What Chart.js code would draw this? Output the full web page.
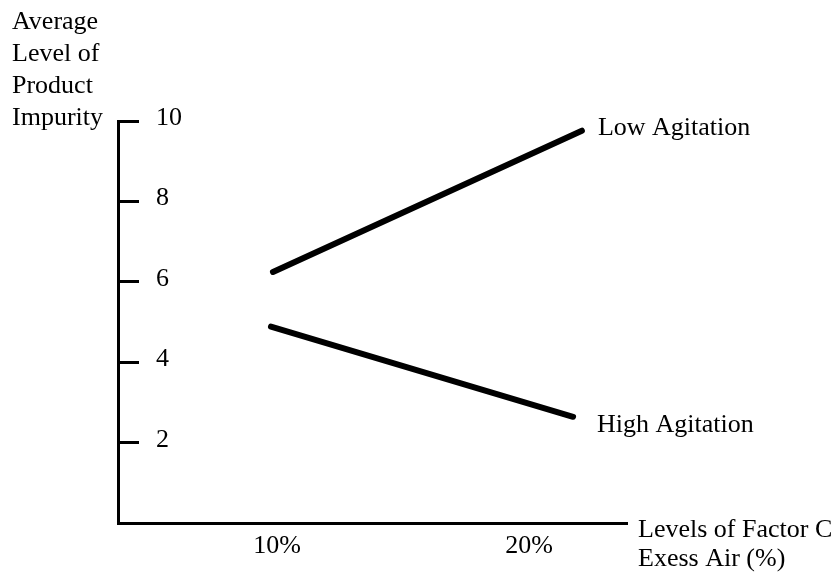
<!DOCTYPE html>
<html lang="en">
<head>
<meta charset="UTF-8">
<title>Average Level of Product Impurity</title>
<script src="https://cdn.jsdelivr.net/npm/chart.js"></script>
<style>
body {
	margin: 0;
	background: #ffffff;
}

.displayChart {
	position: relative;
	width: 840px;
	height: 577px;
}
</style>
</head>
<body>
	<div class="displayChart">
		<canvas id="impurityChart"></canvas>
	</div>
	<script>
	// values
	const xTicks = [10, 20];
	const yTicks = [2, 4, 6, 8, 10];
	const seriesNames = ['Low Agitation', 'High Agitation'];
	const lowX = [9.84, 22.1];
	const lowY = [6.25, 9.76];
	const highX = [9.76, 21.75];
	const highY = [4.89, 2.65];
	const yTitle = ['Average', 'Level of', 'Product', 'Impurity'];
	const xTitle = ['Levels of Factor C', 'Exess Air (%)'];

	const serif = "'Liberation Serif', 'Times New Roman', serif";
	Chart.defaults.font.family = serif;
	Chart.defaults.color = '#000000';

	// where the end labels sit relative to the last point of each line
	const endLabelOffsets = [{ dx: 16, dy: 4 }, { dx: 24, dy: 15 }];

	const textPlugin = {
		id: 'textPlugin',
		afterDraw(chart) {
			const ctx = chart.ctx;
			ctx.save();
			ctx.fillStyle = '#000000';
			ctx.font = '26px ' + serif;
			ctx.textAlign = 'left';
			ctx.textBaseline = 'alphabetic';
			yTitle.forEach((line, i) => ctx.fillText(line, 12, 29 + i * 32));
			xTitle.forEach((line, i) => ctx.fillText(line, 638, 537 + i * 29));
			chart.data.datasets.forEach((ds, i) => {
				const pts = chart.getDatasetMeta(i).data;
				const last = pts[pts.length - 1];
				const off = endLabelOffsets[i];
				ctx.fillText(ds.label, last.x + off.dx, last.y + off.dy);
			});
			ctx.restore();
		}
	};

	const toPoints = (xs, ys) => xs.map((x, i) => ({ x: x, y: ys[i] }));

	const ctx = document.getElementById('impurityChart').getContext('2d');
	const myChart = new Chart(ctx, {
		type: 'line',
		data: {
			datasets: [
				{
					label: seriesNames[0],
					data: toPoints(lowX, lowY),
					borderColor: '#000000',
					borderWidth: 6,
					borderCapStyle: 'round',
					pointRadius: 0,
					clip: false
				},
				{
					label: seriesNames[1],
					data: toPoints(highX, highY),
					borderColor: '#000000',
					borderWidth: 6,
					borderCapStyle: 'round',
					pointRadius: 0,
					clip: false
				}
			]
		},
		options: {
			responsive: true,
			maintainAspectRatio: false,
			animation: false,
			layout: {
				padding: { left: 118, top: 121, right: 213, bottom: 0 }
			},
			plugins: {
				legend: { display: false },
				tooltip: { enabled: false }
			},
			scales: {
				x: {
					type: 'linear',
					min: 3.69,
					max: 23.89,
					afterBuildTicks: s => { s.ticks = xTicks.map(v => ({ value: v })); },
					afterFit: s => { s.height = 37; },
					grid: { drawOnChartArea: false, drawTicks: false },
					border: { display: true, width: 3, color: '#000000' },
					ticks: {
						padding: 7,
						font: { size: 26 },
						callback: v => v + '%'
					}
				},
				y: {
					type: 'linear',
					min: 0,
					max: 10,
					afterBuildTicks: s => { s.ticks = yTicks.map(v => ({ value: v })); },
					afterFit: s => { s.width = 0; },
					grid: {
						drawOnChartArea: false,
						drawTicks: true,
						tickLength: -21,
						lineWidth: 3,
						color: '#000000'
					},
					border: { display: true, width: 3, color: '#000000' },
					ticks: {
						mirror: true,
						padding: 38,
						labelOffset: -3,
						font: { size: 26 }
					}
				}
			}
		},
		plugins: [textPlugin]
	});
	</script>
</body>
</html>
